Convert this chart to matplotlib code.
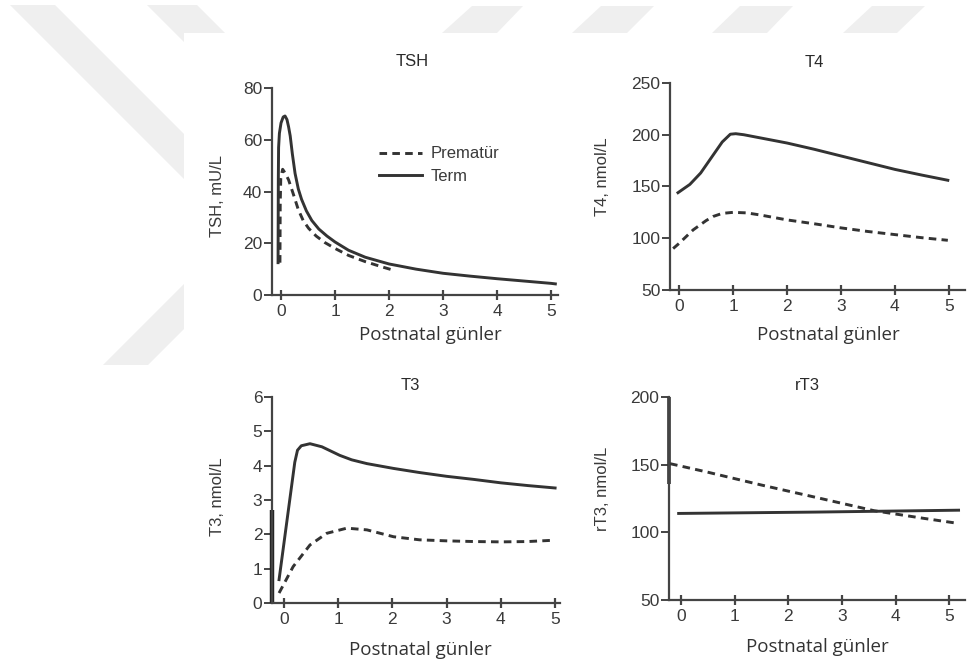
import matplotlib
matplotlib.use("Agg")
import matplotlib.pyplot as plt
from matplotlib.patches import Polygon, Rectangle

plt.rcParams['font.family'] = ['Liberation Sans', 'DejaVu Sans']

# TSH (mU/L)
tsh_term_x = [-0.055, -0.05, -0.045, -0.03, 0.0, 0.04, 0.074, 0.11, 0.14, 0.17, 0.21, 0.26,
              0.32, 0.38, 0.47, 0.57, 0.7, 0.85, 1.0, 1.25, 1.56, 2.0, 2.5, 3.0, 3.5, 4.0, 4.5, 5.0, 5.08]
tsh_term = [12.5, 45, 57, 62.5, 66.5, 68.8, 69.2, 67.8, 65, 61.5, 54.5, 47,
            41, 37, 32.5, 28.8, 25.5, 22.8, 20.5, 17.3, 14.6, 12.0, 10.0, 8.4, 7.3, 6.3, 5.4, 4.5, 4.3]
tsh_pre_x = [-0.02, -0.015, -0.005, 0.03, 0.08, 0.14, 0.22, 0.32, 0.41, 0.51, 0.65, 0.81,
             1.0, 1.25, 1.56, 1.85, 2.11]
tsh_pre = [12.5, 35, 45, 48.6, 47, 44.5, 39.5, 33.0, 28.8, 25.8, 22.8, 20.3,
           18.0, 15.3, 12.9, 11.0, 9.4]

# T4 (nmol/L)
t4_term_x = [-0.02, 0.2, 0.4, 0.6, 0.8, 0.95, 1.05, 1.2, 1.5, 2.0, 2.5, 3.0, 3.5, 4.0, 4.5, 4.98]
t4_term = [144, 152, 163, 178, 193, 200.5, 201, 200, 197, 192, 186, 179.5, 173, 166.5, 161, 156]
t4_pre_x = [-0.11, 0.0, 0.26, 0.5, 0.63, 0.8, 1.0, 1.25, 1.5, 2.0, 2.5, 3.0, 3.5, 4.0, 4.5, 4.98]
t4_pre = [90, 95, 108, 117, 121, 124, 125, 124.5, 122.5, 117.7, 114, 110, 106.5, 103.5, 100.5, 98]

# T3 (nmol/L)
t3_term_x = [-0.09, 0.0, 0.1, 0.2, 0.25, 0.32, 0.48, 0.7, 1.03, 1.25, 1.53, 2.02, 2.5, 3.0, 3.5, 4.0, 4.5, 5.0]
t3_term = [0.68, 1.74, 2.92, 4.1, 4.45, 4.58, 4.64, 4.55, 4.3, 4.17, 4.06, 3.92, 3.8, 3.69, 3.6, 3.5, 3.42, 3.35]
t3_pre_x = [-0.09, 0.17, 0.48, 0.79, 1.16, 1.53, 2.02, 2.5, 3.0, 3.5, 4.0, 4.5, 5.0]
t3_pre = [0.29, 1.06, 1.69, 2.03, 2.18, 2.13, 1.93, 1.84, 1.81, 1.79, 1.78, 1.79, 1.83]

# rT3 (nmol/L)
rt3_term_x = [-0.04, 2.5, 5.17]
rt3_term = [114, 115, 116.4]
rt3_pre_x = [-0.2, 0.5, 1.5, 2.5, 3.6, 4.5, 5.17]
rt3_pre = [150.8, 144.5, 135, 126, 116, 110.5, 106.6]

W, H = 968, 672
fig = plt.figure(figsize=(W / 100, H / 100), dpi=100)

def px(x, y):
    return (x / W, 1 - y / H)

# light grey stripes behind the white sheet
stripes = [
    [(10, 5), (55, 5), (255, 205), (210, 205)],
    [(147, 5), (197, 5), (297, 105), (247, 105)],
    [(103, 365), (148, 365), (248, 265), (203, 265)],
    [(472, 6), (523, 6), (497, 33), (442, 33)],
    [(601, 6), (654, 6), (627, 33), (572, 33)],
    [(740, 6), (793, 6), (767, 33), (712, 33)],
    [(872, 6), (925, 6), (897, 33), (843, 33)],
]
for s in stripes:
    fig.add_artist(Polygon([px(*p) for p in s], closed=True, transform=fig.transFigure,
                           facecolor='#efefef', edgecolor='none', zorder=-3))
fig.add_artist(Rectangle(px(184, 672), (W - 184) / W, (672 - 33) / H, transform=fig.transFigure,
                         facecolor='white', edgecolor='none', zorder=-2))

ink = '#333333'
dash = (2.6, 1.8)

panels = [
    dict(rect=[0.281, 0.561, 0.2955, 0.308], xlim=(-0.167, 5.13), ylim=(0, 80), yticks=[0, 20, 40, 60, 80],
         title='TSH', tpos=(0.49, 1.126), ylabel='TSH, mU/L', ypos=(-0.192, 0.478), xpos=(0.552, -0.193),
         term=(tsh_term_x, tsh_term), pre=(tsh_pre_x, tsh_pre)),
    dict(rect=[0.6922, 0.5685, 0.3048, 0.308], xlim=(-0.167, 5.3), ylim=(50, 250), yticks=[50, 100, 150, 200, 250],
         title='T4', tpos=(0.49, 1.101), ylabel='T4, nmol/L', ypos=(-0.23, 0.546), xpos=(0.536, -0.217),
         term=(t4_term_x, t4_term), pre=(t4_pre_x, t4_pre)),
    dict(rect=[0.281, 0.1027, 0.2975, 0.3065], xlim=(-0.22, 5.09), ylim=(0, 6), yticks=[0, 1, 2, 3, 4, 5, 6],
         title='T3', tpos=(0.48, 1.058), ylabel='T3, nmol/L', ypos=(-0.19, 0.515), xpos=(0.514, -0.228),
         term=(t3_term_x, t3_term), pre=(t3_pre_x, t3_pre)),
    dict(rect=[0.6911, 0.1071, 0.3058, 0.302], xlim=(-0.22, 5.29), ylim=(50, 200), yticks=[50, 100, 150, 200],
         title='rT3', tpos=(0.466, 1.059), ylabel='rT3, nmol/L', ypos=(-0.226, 0.55), xpos=(0.5, -0.232),
         term=(rt3_term_x, rt3_term), pre=(rt3_pre_x, rt3_pre)),
]

axes = []
for p in panels:
    ax = fig.add_axes(p['rect'])
    ax.set_facecolor('none')
    ax.plot(*p['pre'], color=ink, lw=2.1, dashes=dash, label='Prematür')
    ax.plot(*p['term'], color=ink, lw=2.1, label='Term')
    ax.set_xlim(*p['xlim'])
    ax.set_ylim(*p['ylim'])
    ax.set_xticks([0, 1, 2, 3, 4, 5])
    ax.set_yticks(p['yticks'])
    for side in ['top', 'right']:
        ax.spines[side].set_visible(False)
    for side in ['left', 'bottom']:
        ax.spines[side].set_color('#444444')
        ax.spines[side].set_linewidth(1.6)
    ax.tick_params(axis='y', direction='out', length=6, width=1.4, color='#444444',
                   labelsize=12.5, labelcolor='#3a3a3a', pad=1)
    ax.tick_params(axis='x', direction='inout', length=7, width=1.6, color='#444444',
                   labelsize=12.5, labelcolor='#3a3a3a', pad=3)
    ax.text(*p['tpos'], p['title'], transform=ax.transAxes, ha='center', va='center',
            fontsize=12, color='#2a2a2a')
    ax.text(*p['ypos'], p['ylabel'], transform=ax.transAxes, ha='center', va='center',
            rotation=90, fontsize=12, color='#3a3a3a')
    ax.text(*p['xpos'], 'Postnatal günler', transform=ax.transAxes, ha='center', va='center',
            fontsize=13.5, color='#333333', family=['Open Sans', 'DejaVu Sans'])
    axes.append(ax)

axes[0].legend(loc='upper left', bbox_to_anchor=(0.32, 0.79), frameon=False, fontsize=12,
               handlelength=2.6, handletextpad=0.5, labelspacing=0.45, labelcolor='#3a3a3a')

# heavier stretches along the axis lines
axes[2].plot([-0.22, -0.22], [0, 2.7], color='#222222', lw=3.2, clip_on=False, solid_capstyle='butt')
axes[3].plot([-0.22, -0.22], [136, 200], color='#333333', lw=2.6, clip_on=False, solid_capstyle='butt')

fig.savefig('out.png', dpi=100, facecolor='white')
